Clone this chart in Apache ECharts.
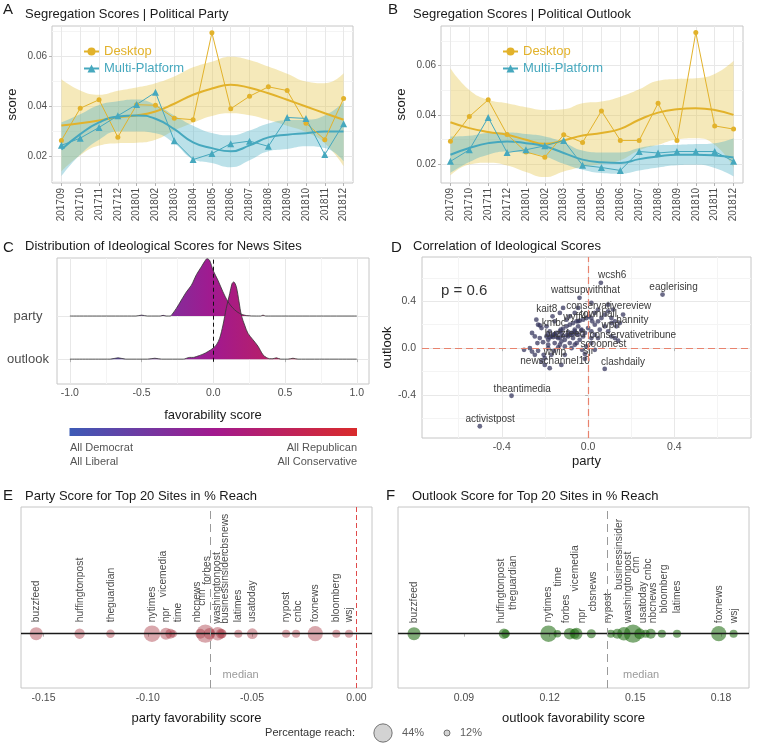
<!DOCTYPE html>
<html><head><meta charset="utf-8">
<script src="https://cdn.jsdelivr.net/npm/echarts@6/dist/echarts.min.js"></script>
<style>html,body{margin:0;padding:0;background:#fff}#c{width:757px;height:749px}</style>
</head><body><div id="c"></div>
<script>
// ---------------- DATA ----------------
const months = ['201709','201710','201711','201712','201801','201802','201803','201804','201805','201806','201807','201808','201809','201810','201811','201812'];

// Panel A: political party
const partyDesktop    = [0.0264,0.0393,0.0427,0.0277,0.0407,0.0405,0.0353,0.0347,0.0696,0.0391,0.0441,0.0479,0.0464,0.0333,0.0267,0.0432];
const partyMulti      = [0.0244,0.0273,0.0316,0.0363,0.0408,0.0457,0.0263,0.0187,0.0211,0.0251,0.0261,0.0240,0.0356,0.0352,0.0207,0.0331];
const partyDesktopFit = [0.0324,0.0333,0.0344,0.0357,0.0364,0.0380,0.0411,0.0447,0.0472,0.0487,0.0475,0.0453,0.0427,0.0400,0.0373,0.0347];
const partyDesktopLo  = [0.0139,0.0204,0.0243,0.0253,0.0255,0.0267,0.0304,0.0335,0.0362,0.0373,0.0365,0.0346,0.0323,0.0298,0.0253,0.0161];
const partyDesktopHi  = [0.0509,0.0464,0.0447,0.0463,0.0476,0.0493,0.0520,0.0557,0.0580,0.0600,0.0587,0.0560,0.0531,0.0500,0.0493,0.0533];
const partyMultiFit   = [0.0227,0.0289,0.0336,0.0360,0.0364,0.0351,0.0309,0.0256,0.0233,0.0220,0.0244,0.0276,0.0287,0.0293,0.0300,0.0300];
const partyMultiLo    = [0.0120,0.0207,0.0267,0.0300,0.0300,0.0293,0.0253,0.0189,0.0173,0.0156,0.0184,0.0220,0.0229,0.0240,0.0233,0.0180];
const partyMultiHi    = [0.0336,0.0369,0.0406,0.0421,0.0428,0.0407,0.0364,0.0323,0.0294,0.0285,0.0304,0.0332,0.0345,0.0347,0.0364,0.0417];

// Panel B: political outlook
const outlookDesktop    = [0.0293,0.0393,0.0461,0.0320,0.0249,0.0228,0.0319,0.0288,0.0416,0.0296,0.0296,0.0447,0.0296,0.0735,0.0355,0.0342];
const outlookMulti      = [0.0211,0.0258,0.0389,0.0247,0.0258,0.0274,0.0296,0.0195,0.0186,0.0174,0.0251,0.0245,0.0251,0.0251,0.0251,0.0211];
const outlookDesktopFit = [0.0370,0.0346,0.0330,0.0319,0.0299,0.0282,0.0296,0.0316,0.0326,0.0343,0.0380,0.0409,0.0423,0.0427,0.0420,0.0400];
const outlookDesktopLo  = [0.0154,0.0198,0.0205,0.0194,0.0168,0.0147,0.0170,0.0188,0.0200,0.0215,0.0256,0.0278,0.0300,0.0305,0.0278,0.0186];
const outlookDesktopHi  = [0.0589,0.0501,0.0461,0.0447,0.0431,0.0420,0.0423,0.0447,0.0454,0.0474,0.0504,0.0539,0.0546,0.0549,0.0566,0.0620];
const outlookMultiFit   = [0.0238,0.0265,0.0285,0.0292,0.0285,0.0272,0.0245,0.0218,0.0207,0.0204,0.0220,0.0231,0.0238,0.0238,0.0235,0.0227];
const outlookMultiLo    = [0.0164,0.0208,0.0238,0.0251,0.0245,0.0231,0.0201,0.0177,0.0164,0.0161,0.0174,0.0186,0.0195,0.0197,0.0184,0.0150];
const outlookMultiHi    = [0.0312,0.0315,0.0326,0.0328,0.0322,0.0312,0.0288,0.0255,0.0247,0.0247,0.0265,0.0276,0.0278,0.0281,0.0285,0.0305];

const scoreTicksA = [0.02,0.04,0.06];
const scoreTicksB = [0.02,0.04,0.06];

// Panel C: ridgeline densities
const ridgeRows = ['outlook','party'];
const partyDensX = [-1.0,-0.6,-0.54,-0.5,-0.46,-0.4,-0.37,-0.35,-0.33,-0.3,-0.292,-0.258,-0.223,-0.188,-0.153,-0.118,-0.084,-0.06,-0.044,-0.026,-0.002,0.032,0.067,0.102,0.137,0.183,0.23,0.3,0.33,0.346,0.365,0.4,1.0];
const partyDensH = [0,0,0,0.02,0,0,0,0.015,0,0,0.02,0.177,0.37,0.56,0.715,0.96,1.14,1.27,1.33,1.29,1.06,0.83,0.56,0.33,0.18,0.06,0.01,0,0,0.02,0,0,0];
const outlookDensX = [-1.0,-0.72,-0.664,-0.61,-0.46,-0.408,-0.36,-0.21,-0.165,-0.14,-0.118,-0.072,-0.037,-0.002,0.021,0.044,0.067,0.09,0.114,0.13,0.142,0.16,0.179,0.195,0.218,0.241,0.276,0.311,0.346,0.369,0.392,0.415,0.439,0.47,0.52,0.555,0.59,1.0];
const outlookDensH = [0,0,0.03,0,0,0.02,0,0,0.04,0.04,0.06,0.115,0.177,0.254,0.33,0.485,0.79,1.18,1.52,1.75,1.79,1.68,1.33,1.02,0.79,0.6,0.45,0.3,0.1,0.04,0.01,0.01,0.03,0,0,0.02,0,0];
const favTicks = [-1,-0.5,0,0.5,1];

// Panel D: correlation scatter
const dNames   = ['wcsh6','eaglerising','wattsupwiththat','conservativereview','kait8','wyff4','townhall','hannity','kmbc','wpri','buzzfeed','conservativetribune','scoopnest','wwlp','sjr','newschannel10','clashdaily','theantimedia','activistpost'];
const dParty   = [0.059,0.345,-0.040,0.031,-0.165,-0.046,0.015,0.162,-0.224,0.108,-0.127,0.139,-0.053,-0.185,-0.015,-0.178,0.077,-0.355,-0.502];
const dOutlook = [0.557,0.457,0.429,0.300,0.271,0.229,0.257,0.286,0.194,0.214,0.157,0.063,0.043,0.000,-0.049,-0.171,-0.177,-0.406,-0.666];
const dCloud = [
 [-0.24,0.243],[-0.232,0.2],[-0.216,0.171],[-0.26,0.129],[-0.247,0.1],[-0.224,0.086],[-0.209,0.051],[-0.235,0.043],
 [-0.27,0],[-0.297,-0.014],[-0.26,-0.029],[-0.232,-0.023],[-0.206,-0.057],[-0.201,-0.086],[-0.17,-0.057],[-0.158,-0.023],
 [-0.139,0.006],[-0.185,0.071],[-0.17,0.1],[-0.147,0.129],[-0.131,0.143],[-0.116,0.166],[-0.1,0.186],[-0.085,0.2],
 [-0.07,0.214],[-0.054,0.229],[-0.039,0.234],[-0.023,0.243],[-0.008,0.257],[0.003,0.271],[0.019,0.229],[0.031,0.2],
 [0.046,0.229],[0.062,0.257],[0.077,0.286],[0.093,0.314],[0.108,0.257],[0.124,0.229],[0.131,0.186],[0.147,0.214],
 [0.116,0.329],[0.093,0.371],[0.046,0.329],[0.015,0.386],[-0.046,0.343],[-0.062,0.3],[-0.085,0.271],[-0.1,0.243],
 [-0.116,0.343],[-0.131,0.3],[-0.155,0.229],[-0.193,0.186],[-0.178,0.143],[-0.162,0.114],[-0.139,0.086],[-0.124,0.057],
 [-0.108,0.071],[-0.093,0.1],[-0.077,0.129],[-0.062,0.157],[-0.046,0.186],[-0.031,0.157],[-0.015,0.129],[0,0.171],
 [0.015,0.143],[-0.023,0.1],[-0.039,0.071],[-0.07,0.086],[-0.085,0.043],[-0.108,0.014],[-0.131,0.029],[-0.028,-0.014],
 [-0.008,0.014],[0.015,0.043],[0.031,-0.014],[-0.015,-0.091],[-0.108,-0.057],[-0.124,-0.143],[-0.216,-0.114],[-0.247,-0.057],
 [-0.201,-0.143],[0.031,0.114],[0.054,0.157],[0.077,0.186],[0.093,0.143],[0.108,0.1],[0.124,0.086],[0.046,0.086],
 [0.015,0.086],[-0.062,0.029],[-0.077,0],[-0.155,0.043],[-0.185,0.029],
 [-0.193,0.1],[-0.178,0.091],[-0.162,0.094],[-0.147,0.097],[-0.131,0.091],[-0.116,0.103],[-0.1,0.109],[-0.085,0.114],
 [-0.07,0.12],[-0.054,0.126],[-0.046,0.114],[-0.185,0.12],[-0.155,0.12],[-0.124,0.126],[-0.093,0.137],[-0.062,0.143],[-0.031,0.149]
];
const corrTicks = [-0.4,0,0.4];

// Panels E/F: top 20 sites
const topSites     = ['buzzfeed','huffingtonpost','theguardian','nytimes','npr','vicemedia','time','nbcnews','cnn','forbes','washingtonpost','businessinsider','cbsnews','latimes','usatoday','nypost','cnbc','foxnews','bloomberg','wsj'];
const partyScore   = [-0.1535,-0.1327,-0.1179,-0.0980,-0.0913,-0.0892,-0.0879,-0.0748,-0.0724,-0.0704,-0.0665,-0.0649,-0.0644,-0.0566,-0.0499,-0.0337,-0.0289,-0.0197,-0.0096,-0.0035];
const outlookScore = [0.0725,0.1040,0.1046,0.1196,0.1294,0.1287,0.1227,0.1554,0.1492,0.1270,0.1460,0.1437,0.1346,0.1646,0.1515,0.1414,0.1536,0.1792,0.1593,0.1844];
const reach        = [28,21,17,38,25,20,15,20,44,24,29,20,18,16,22,16,16,34,16,16];
const partyTicksE   = [-0.15,-0.10,-0.05,0.00];
const outlookTicksF = [0.09,0.12,0.15,0.18];
const reachLegend   = [44,12];

// ---------------- STYLE / LAYOUT ----------------
const FONT = 'Liberation Sans, Arial, sans-serif';
const DESK = '#E2B22B', MULTI = '#46A8BE';
const GRID_BORDER = '#C6C6C6', MAJ = '#E8E8E8', MIN = '#F4F4F4';
const tickLab = {fontSize:10, color:'#4D4D4D', fontFamily:FONT};
const tickLine = {show:true, length:3, lineStyle:{color:'#B3B3B3'}};
const nameStyle = {fontSize:13, color:'#1A1A1A', fontFamily:FONT};
const sizeOf = r => 3.88*Math.sqrt(r) - 7.4;
const median = arr => { const s = arr.slice().sort((a,b)=>a-b); const n = s.length; return n%2 ? s[(n-1)/2] : (s[n/2-1]+s[n/2])/2; };

const ridgeGrad = {type:'linear', x:0, y:0, x2:1, y2:0, colorStops:[
  {offset:0, color:'#3C5BB6'},{offset:0.5, color:'#A2198F'},{offset:1, color:'#D92B2B'}]};

// label nudges (screen px) for repelled labels
const dLabelShift = {wcsh6:[11.3,-7.7], eaglerising:[11,-7.7], wattsupwiththat:[6,-7.3], conservativereview:[14,-6.7], kait8:[-5.7,-6.7],
  wyff4:[-3.3,-4], townhall:[7.3,-3.3], hannity:[9.3,5.7], kmbc:[14,-1.7], wpri:[-0.7,2.7], buzzfeed:[4.3,5], conservativetribune:[14.7,-6],
  scoopnest:[26.7,0.7], wwlp:[6.7,4.3], sjr:[4,-2.3], newschannel10:[5.3,-6.7], clashdaily:[18.3,-6.7], theantimedia:[10.7,-6.3], activistpost:[10.3,-7]};
const eShift = {vicemedia:[-6.7,-25], time:[5.6,0], nbcnews:[-2.7,0], cnn:[-2.7,-16.4], forbes:[-2.7,-37.4], washingtonpost:[-0.7,1.6],
  businessinsider:[4.3,1.6], cbsnews:[3.3,-68.4], cnbc:[2,0], huffingtonpost:[0.7,0], theguardian:[0.7,0]};
const fShift = {buzzfeed:[0,1], huffingtonpost:[-2.7,1], theguardian:[7.3,-12.3], time:[0.7,-35.6], forbes:[-3.3,1], vicemedia:[0.7,-30.6],
  npr:[6,1], cbsnews:[1.7,-10.6], nypost:[-2.7,1], businessinsider:[2.3,-32.3], washingtonpost:[4.7,1], cnn:[3.3,-49], usatoday:[3.3,1],
  cnbc:[3,-42], nbcnews:[2.3,1], bloomberg:[2,-9], latimes:[0,-9], foxnews:[0,1], wsj:[1,1]};
const LABEL_BASE = -11.5;
// label rotated 90deg: offset lives in the rotated frame
const rotOffset = s => { const dx = s ? s[0] : 0, dy = LABEL_BASE + (s ? s[1] : 0); return [-dy, dx]; };

// ---------------- BUILD ----------------
function lineAxesX(gi){
  return {gridIndex:gi, type:'category', data:months, boundaryGap:true,
    axisLine:{show:false},
    axisTick:Object.assign({}, tickLine, {alignWithLabel:true, interval:0}),
    axisLabel:Object.assign({}, tickLab, {rotate:90, interval:0, margin:5}),
    splitLine:{show:true, alignWithLabel:true, interval:0, lineStyle:{color:MAJ}}};
}
function lineAxesY(gi, min, max, ticks){
  return {gridIndex:gi, type:'value', min:min, max:max, minInterval:0.02, maxInterval:0.02,
    axisLine:{show:false},
    axisTick:Object.assign({}, tickLine, {customValues:ticks}),
    axisLabel:Object.assign({}, tickLab, {customValues:ticks, formatter:v=>v.toFixed(2), margin:5}),
    splitLine:{show:true, lineStyle:{color:MAJ}},
    minorTick:{show:false, splitNumber:2}, minorSplitLine:{show:true, lineStyle:{color:MIN}},
    name:'score', nameLocation:'middle', nameGap:33, nameTextStyle:nameStyle};
}
function bandSeries(gi, lo, hi, color, stack){
  return [
    {type:'line', xAxisIndex:gi, yAxisIndex:gi, data:lo, stack:stack, smooth:true, symbol:'none', silent:true,
      lineStyle:{opacity:0}, z:1},
    {type:'line', xAxisIndex:gi, yAxisIndex:gi, data:hi.map((h,i)=>+(h-lo[i]).toFixed(5)), stack:stack, smooth:true, symbol:'none', silent:true,
      lineStyle:{opacity:0}, areaStyle:{color:color, opacity:0.38}, z:1}
  ];
}
function lineSeries(gi, desk, multi, deskFit, multiFit){
  return [
    {name:'Desktop fit', type:'line', xAxisIndex:gi, yAxisIndex:gi, data:deskFit, smooth:true, symbol:'none', lineStyle:{color:DESK, width:2}, z:3},
    {name:'Multi-Platform fit', type:'line', xAxisIndex:gi, yAxisIndex:gi, data:multiFit, smooth:true, symbol:'none', lineStyle:{color:MULTI, width:2}, z:3},
    {name:'Desktop', type:'line', xAxisIndex:gi, yAxisIndex:gi, data:desk, symbol:'circle', symbolSize:5, color:DESK, lineStyle:{color:DESK, width:1}, itemStyle:{color:DESK}, z:4},
    {name:'Multi-Platform', type:'line', xAxisIndex:gi, yAxisIndex:gi, data:multi, symbol:'triangle', symbolSize:7, color:MULTI, lineStyle:{color:MULTI, width:1}, itemStyle:{color:MULTI}, z:4}
  ];
}
function legendAt(left){
  return {left:left, top:45, orient:'vertical', itemWidth:15, itemHeight:10, itemGap:4, selectedMode:false,
    textStyle:{fontSize:13, fontFamily:FONT}, padding:0,
    data:[{name:'Desktop', textStyle:{color:DESK}}, {name:'Multi-Platform', textStyle:{color:MULTI}}]};
}
function titleItem(text, left, top, size){
  return {text:text, left:left, top:top, padding:0, textStyle:{fontSize:size, fontWeight:'normal', color:'#1A1A1A', fontFamily:FONT}};
}
function siteAxisX(gi, min, max, ticks, name){
  return {gridIndex:gi, type:'value', min:min, max:max,
    axisLine:{show:false},
    axisTick:Object.assign({}, tickLine, {customValues:ticks}),
    axisLabel:Object.assign({}, tickLab, {fontSize:10.5, customValues:ticks, formatter:v=>v.toFixed(2), margin:5}),
    splitLine:{show:false},
    name:name, nameLocation:'middle', nameGap:24, nameTextStyle:nameStyle};
}
function siteSeries(gi, scores, color, opacity, shift, withZero){
  const med = median(scores);
  const lines = [{yAxis:0, lineStyle:{color:'#1A1A1A', type:'solid', width:1.3}}];
  if (withZero) lines.push({xAxis:0, lineStyle:{color:'#E04A4A', type:[5,3], width:1}});
  lines.push({xAxis:med, lineStyle:{color:'#9A9A9A', type:[8,5], width:1}});
  return {type:'scatter', xAxisIndex:gi, yAxisIndex:gi,
    data: topSites.map((s,i)=>({name:s, value:[scores[i],0], symbolSize:sizeOf(reach[i]), label:{offset:rotOffset(shift[s])}})),
    itemStyle:{color:color, opacity:opacity},
    label:{show:true, position:'inside', rotate:90, align:'left', verticalAlign:'middle', formatter:'{b}', color:'#4D4D4D', opacity:1, fontSize:10.3, fontFamily:FONT},
    markLine:{silent:true, symbol:['none','none'], label:{show:false}, data:lines, z:5},
    markPoint:{silent:true, symbol:'circle', symbolSize:0, data:[{coord:[med,-0.23], value:'median'}],
      label:{show:true, position:'right', distance:9, formatter:'median', color:'#9A9A9A', fontSize:11, fontFamily:FONT}}
  };
}

const option = {
  animation:false,
  backgroundColor:'#fff',
  textStyle:{fontFamily:FONT},
  title:[
    titleItem('A',3,2,15), titleItem('Segregation Scores | Political Party',25,8,13),
    titleItem('B',388,2,15), titleItem('Segregation Scores | Political Outlook',413,8,13),
    titleItem('C',3,240,15), titleItem('Distribution of Ideological Scores for News Sites',25,240,13),
    titleItem('D',391,240,15), titleItem('Correlation of Ideological Scores',413,240,13),
    titleItem('E',3,488,15), titleItem('Party Score for Top 20 Sites in % Reach',25,490,13),
    titleItem('F',386,488,15), titleItem('Outlook Score for Top 20 Sites in % Reach',412,490,13),
    {text:'p = 0.6', left:441, top:283, padding:0, textStyle:{fontSize:15, fontWeight:'normal', color:'#333', fontFamily:FONT}},
    {text:'Percentage reach:', right:402, top:727, padding:0, textStyle:{fontSize:11, fontWeight:'normal', color:'#333', fontFamily:FONT}}
  ],
  legend:[legendAt(83), legendAt(502)],
  grid:[
    {left:52, top:26, width:301, height:157, show:true, borderColor:GRID_BORDER, borderWidth:1},
    {left:441, top:26, width:302, height:157, show:true, borderColor:GRID_BORDER, borderWidth:1},
    {left:57, top:258, width:312, height:126, show:true, borderColor:GRID_BORDER, borderWidth:1},
    {left:422, top:257, width:329, height:181, show:true, borderColor:GRID_BORDER, borderWidth:1},
    {left:21, top:507, width:351, height:181, show:true, borderColor:GRID_BORDER, borderWidth:1},
    {left:398, top:507, width:351, height:181, show:true, borderColor:GRID_BORDER, borderWidth:1},
    {left:351, top:724, width:128, height:18, show:false}
  ],
  xAxis:[
    lineAxesX(0), lineAxesX(1),
    {gridIndex:2, type:'value', min:-1.09, max:1.085, minInterval:0.5, maxInterval:0.5,
      axisLine:{show:false},
      axisTick:Object.assign({}, tickLine, {customValues:favTicks}),
      axisLabel:Object.assign({}, tickLab, {fontSize:10.5, customValues:favTicks, formatter:v=>v.toFixed(1), margin:4}),
      splitLine:{show:true, lineStyle:{color:MAJ}},
      minorTick:{show:false, splitNumber:2}, minorSplitLine:{show:true, lineStyle:{color:MIN}},
      name:'favorability score', nameLocation:'middle', nameGap:25, nameTextStyle:nameStyle},
    {gridIndex:3, type:'value', min:-0.77, max:0.755, minInterval:0.4, maxInterval:0.4,
      axisLine:{show:false},
      axisTick:Object.assign({}, tickLine, {customValues:corrTicks}),
      axisLabel:Object.assign({}, tickLab, {fontSize:10.5, customValues:corrTicks, formatter:v=>v.toFixed(1), margin:4}),
      splitLine:{show:true, lineStyle:{color:MAJ}},
      minorTick:{show:false, splitNumber:2}, minorSplitLine:{show:true, lineStyle:{color:MIN}},
      name:'party', nameLocation:'middle', nameGap:17, nameTextStyle:nameStyle},
    siteAxisX(4, -0.1608, 0.0075, partyTicksE, 'party favorability score'),
    siteAxisX(5, 0.0669, 0.1898, outlookTicksF, 'outlook favorability score'),
    {gridIndex:6, type:'category', data:reachLegend.map(r=>r+'%'), show:false}
  ],
  yAxis:[
    lineAxesY(0, 0.0093, 0.0723, scoreTicksA),
    lineAxesY(1, 0.0123, 0.0761, scoreTicksB),
    {gridIndex:2, type:'value', min:-0.577, max:2.346,
      axisLine:{show:false},
      axisTick:{show:false, customValues:[0,1]},
      axisLabel:{customValues:[0,1], formatter:v=>ridgeRows[Math.round(v)], fontSize:13, color:'#4D4D4D', fontFamily:FONT, align:'center', margin:29},
      splitLine:{show:true, lineStyle:{color:MAJ}}},
    {gridIndex:3, type:'value', min:-0.766, max:0.777, minInterval:0.4, maxInterval:0.4,
      axisLine:{show:false},
      axisTick:Object.assign({}, tickLine, {customValues:corrTicks}),
      axisLabel:Object.assign({}, tickLab, {fontSize:10.5, customValues:corrTicks, formatter:v=>v.toFixed(1), margin:6}),
      splitLine:{show:true, lineStyle:{color:MAJ}},
      minorTick:{show:false, splitNumber:2}, minorSplitLine:{show:true, lineStyle:{color:MIN}},
      name:'outlook', nameLocation:'middle', nameGap:25, nameTextStyle:nameStyle},
    {gridIndex:4, type:'value', min:-0.3, max:0.7, show:false},
    {gridIndex:5, type:'value', min:-0.3, max:0.7, show:false},
    {gridIndex:6, type:'value', min:-1, max:1, show:false}
  ],
  series:[]
};

// A & B
option.series.push(...bandSeries(0, partyDesktopLo, partyDesktopHi, '#E6C449', 'aD'));
option.series.push(...bandSeries(0, partyMultiLo, partyMultiHi, '#4CB0C6', 'aM'));
option.series.push(...lineSeries(0, partyDesktop, partyMulti, partyDesktopFit, partyMultiFit));
option.series.push(...bandSeries(1, outlookDesktopLo, outlookDesktopHi, '#E6C449', 'bD'));
option.series.push(...bandSeries(1, outlookMultiLo, outlookMultiHi, '#4CB0C6', 'bM'));
option.series.push(...lineSeries(1, outlookDesktop, outlookMulti, outlookDesktopFit, outlookMultiFit));

// C ridgelines
const ridge = (xs, hs, row) => ({type:'line', xAxisIndex:2, yAxisIndex:2,
  data: xs.map((x,i)=>[x, row + hs[i]]), smooth:0.3, symbol:'none', silent:true,
  lineStyle:{color:'#333', width:0.8}, areaStyle:{origin:row, color:ridgeGrad, opacity:1}});
option.series.push(ridge(partyDensX, partyDensH, ridgeRows.indexOf('party')));
const outRidge = ridge(outlookDensX, outlookDensH, ridgeRows.indexOf('outlook'));
outRidge.markLine = {silent:true, symbol:['none','none'], label:{show:false},
  lineStyle:{color:'#111', type:[4,3], width:1},
  data:[[{coord:[0,-0.06]},{coord:[0,2.346]}]]};
option.series.push(outRidge);

// D scatter
option.series.push({type:'scatter', xAxisIndex:3, yAxisIndex:3, data:dCloud, symbolSize:4.8,
  itemStyle:{color:'rgb(50,50,90)', opacity:0.72},
  markLine:{silent:true, symbol:['none','none'], label:{show:false}, lineStyle:{color:'#E8836E', type:[7,4], width:1.2},
    data:[{xAxis:0},{yAxis:0}]}});
option.series.push({type:'scatter', xAxisIndex:3, yAxisIndex:3,
  data: dNames.map((n,i)=>({name:n, value:[dParty[i], dOutlook[i]], label:{offset:dLabelShift[n]}})),
  symbolSize:4.8, itemStyle:{color:'rgb(50,50,90)', opacity:0.72},
  label:{show:true, position:'inside', formatter:'{b}', color:'#3A3A3A', opacity:1, fontSize:10, fontFamily:FONT, textBorderWidth:0}, z:4});

// E & F
option.series.push(siteSeries(4, partyScore, 'rgb(170,60,70)', 0.45, eShift, true));
option.series.push(siteSeries(5, outlookScore, 'rgb(34,110,20)', 0.58, fShift, false));

// size legend
option.series.push({type:'scatter', xAxisIndex:6, yAxisIndex:6,
  data: reachLegend.map((r,i)=>({value:[i,0], symbolSize:sizeOf(r)})),
  itemStyle:{color:'#C8C8C8', borderColor:'#333', borderWidth:0.8},
  label:{show:true, position:'right', distance:9.5, formatter:p=>reachLegend[p.dataIndex]+'%', color:'#333', fontSize:11, fontFamily:FONT}});

// colour bar under panel C
const tf = {fontSize:11, fontFamily:FONT, fill:'#555'};
option.graphic = [
  {type:'rect', shape:{x:69.5, y:428, width:287.5, height:8}, style:{fill:ridgeGrad}, silent:true},
  {type:'text', x:70, y:448, style:Object.assign({text:'All Democrat', align:'left', verticalAlign:'middle'}, tf)},
  {type:'text', x:70, y:462, style:Object.assign({text:'All Liberal', align:'left', verticalAlign:'middle'}, tf)},
  {type:'text', x:357, y:448, style:Object.assign({text:'All Republican', align:'right', verticalAlign:'middle'}, tf)},
  {type:'text', x:357, y:462, style:Object.assign({text:'All Conservative', align:'right', verticalAlign:'middle'}, tf)}
];

const chart = echarts.init(document.getElementById('c'), null, {renderer:'canvas', width:757, height:749});
chart.setOption(option);
</script></body></html>
